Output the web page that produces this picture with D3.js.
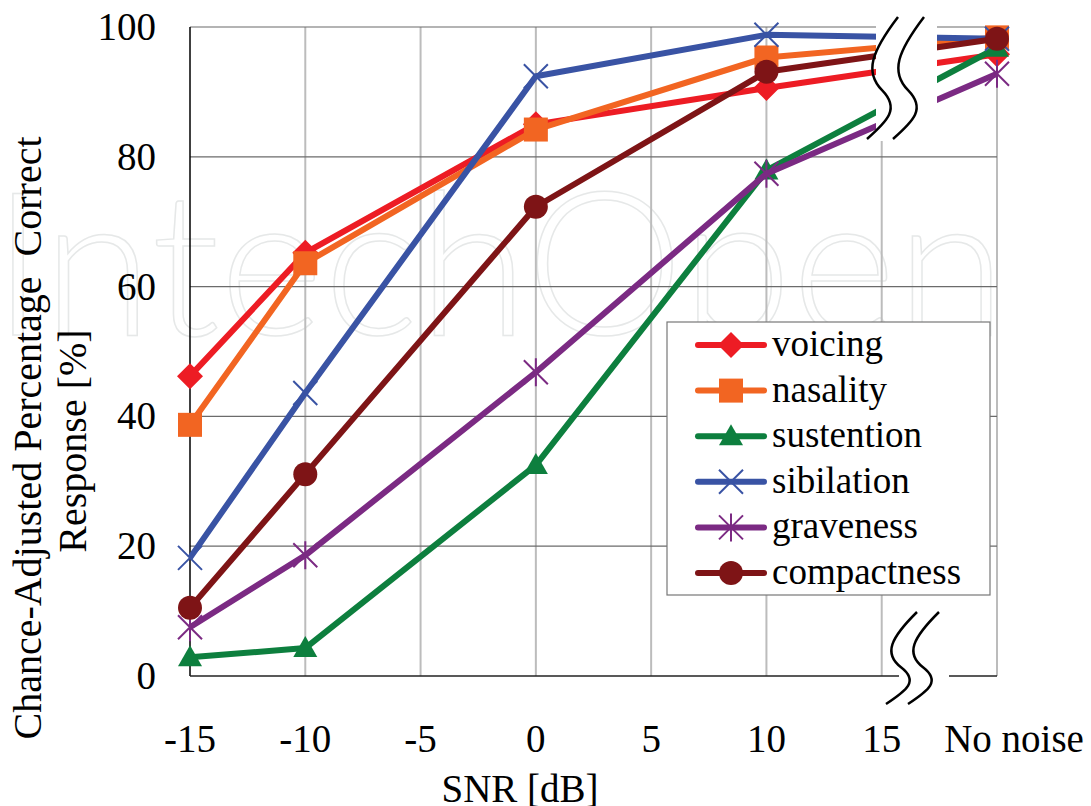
<!DOCTYPE html>
<html>
<head>
<meta charset="utf-8">
<script src="https://cdn.jsdelivr.net/npm/d3@7"></script>
</head>
<body style="margin:0">
<script>
// x positions: 20 stands for "No noise"
var snr = [-15, -10, 0, 10, 20];
var xTicks = [-15, -10, -5, 0, 5, 10, 15, 20];
var xTickLabels = ["-15", "-10", "-5", "0", "5", "10", "15", "No noise"];
var yTicks = [0, 20, 40, 60, 80, 100];

var names = ["voicing", "nasality", "sustention", "sibilation", "graveness", "compactness"];
var voicing     = [46.2, 65.2, 85.0, 90.6, 95.8];
var nasality    = [38.7, 63.6, 84.2, 95.3, 98.4];
var sustention  = [2.9, 4.3, 32.5, 77.9, 96.8];
var sibilation  = [18.2, 43.6, 92.4, 98.8, 98.2];
var graveness   = [7.5, 18.6, 46.8, 77.4, 92.8];
var compactness = [10.5, 31.1, 72.3, 93.1, 98.2];

var colors = ["#ed1c24", "#f26522", "#0d7f3e", "#3953a4", "#7b2a83", "#7e1416"];
var shapes = ["diamond", "square", "triangle", "x", "star", "circle"];

var series = [voicing, nasality, sustention, sibilation, graveness, compactness].map(function(v, i) {
  return { name: names[i], values: v, color: colors[i], shape: shapes[i] };
});

var width = 1091, height = 806;
var x = d3.scaleLinear().domain([-15, 20]).range([190, 997]);
var y = d3.scaleLinear().domain([0, 100]).range([676, 27]);

var svg = d3.select("body").append("svg")
    .attr("width", width)
    .attr("height", height)
    .attr("font-family", "Liberation Serif");

function serifText(sel, size) {
  return sel.attr("font-family", "Liberation Serif")
    .style("font-family", function() { return "'Liberation Serif', monospace"; })
    .style("font-size", size + "px");
}

// faint watermark
svg.append("text")
    .attr("x", -8).attr("y", 335)
    .attr("font-family", "Lato")
    .style("font-family", "Lato")
    .style("font-size", "200px")
    .style("font-weight", "300")
    .style("fill", "none")
    .style("stroke", "#e6e8e8")
    .style("stroke-width", 1.5)
    .text("IntechOpen");

// vertical grid
svg.append("g").selectAll("line")
    .data(xTicks.slice(1))
    .enter().append("line")
    .attr("x1", function(d) { return x(d); })
    .attr("x2", function(d) { return x(d); })
    .attr("y1", y(100)).attr("y2", y(0))
    .style("stroke", "#bcbcbc")
    .style("stroke-width", 2);

// horizontal grid
svg.append("g").selectAll("line")
    .data(yTicks.slice(1))
    .enter().append("line")
    .attr("x1", x(-15)).attr("x2", x(20))
    .attr("y1", function(d) { return y(d); })
    .attr("y2", function(d) { return y(d); })
    .style("stroke", "#6b6b6b")
    .style("stroke-width", 1.2);

// axes
svg.append("line")
    .attr("x1", x(-15)).attr("x2", x(-15))
    .attr("y1", y(100)).attr("y2", y(0))
    .style("stroke", "#000").style("stroke-width", 1.5);
svg.append("line")
    .attr("x1", x(-15)).attr("x2", x(20))
    .attr("y1", y(0)).attr("y2", y(0))
    .style("stroke", "#222").style("stroke-width", 1.5);

// tick labels
svg.append("g").selectAll("text")
    .data(yTicks)
    .enter().append("text")
    .attr("x", 156)
    .attr("y", function(d) { return y(d) + 13; })
    .attr("text-anchor", "end")
    .call(serifText, 39)
    .text(function(d) { return d; });

svg.append("g").selectAll("text")
    .data(xTicks)
    .enter().append("text")
    .attr("x", function(d, i) { return x(d) + (i == 7 ? 17 : 0); })
    .attr("y", 752)
    .attr("text-anchor", "middle")
    .call(serifText, 39)
    .text(function(d, i) { return xTickLabels[i]; });

svg.append("text")
    .attr("x", 520).attr("y", 802)
    .attr("text-anchor", "middle")
    .call(serifText, 39)
    .text("SNR [dB]");

svg.append("text")
    .attr("transform", "translate(41,438) rotate(-90)")
    .attr("text-anchor", "middle")
    .call(serifText, 40)
    .text("Chance-Adjusted Percentage\u00a0\u00a0Correct");
svg.append("text")
    .attr("transform", "translate(86,441) rotate(-90)")
    .attr("text-anchor", "middle")
    .call(serifText, 40)
    .text("Response [%]");

// markers
function drawMarker(g, shape, color, cx, cy) {
  if (shape == "circle") {
    g.append("circle").attr("cx", cx).attr("cy", cy).attr("r", 12).style("fill", color);
  } else if (shape == "square") {
    g.append("rect").attr("x", cx - 12).attr("y", cy - 12).attr("width", 24).attr("height", 24).style("fill", color);
  } else if (shape == "diamond") {
    g.append("path").attr("d", "M" + cx + "," + (cy - 13) + "L" + (cx + 13) + "," + cy + "L" + cx + "," + (cy + 13) + "L" + (cx - 13) + "," + cy + "Z").style("fill", color);
  } else if (shape == "triangle") {
    g.append("path").attr("d", "M" + cx + "," + (cy - 12) + "L" + (cx + 12) + "," + (cy + 9) + "L" + (cx - 12) + "," + (cy + 9) + "Z").style("fill", color);
  } else if (shape == "x") {
    g.append("path").attr("d", "M" + (cx - 12) + "," + (cy - 12) + "L" + (cx + 12) + "," + (cy + 12) + "M" + (cx + 12) + "," + (cy - 12) + "L" + (cx - 12) + "," + (cy + 12))
      .style("stroke", color).style("stroke-width", 2);
  } else if (shape == "star") {
    g.append("path").attr("d", "M" + (cx - 12) + "," + (cy - 12) + "L" + (cx + 12) + "," + (cy + 12) + "M" + (cx + 12) + "," + (cy - 12) + "L" + (cx - 12) + "," + (cy + 12) + "M" + cx + "," + (cy - 14) + "L" + cx + "," + (cy + 14))
      .style("stroke", color).style("stroke-width", 2);
  }
}

var line = d3.line()
    .x(function(d, i) { return x(snr[i]); })
    .y(function(d) { return y(d); });

var plot = svg.append("g");
series.forEach(function(s) {
  plot.append("path")
      .datum(s.values)
      .attr("d", line)
      .style("fill", "none")
      .style("stroke", s.color)
      .style("stroke-width", 6)
      .style("stroke-linejoin", "round");
  s.values.forEach(function(v, i) {
    drawMarker(plot, s.shape, s.color, x(snr[i]), y(v));
  });
});

// axis break marks
function squiggle(x0, y0, dy) {
  return "M" + x0 + "," + y0 +
    "C" + (x0 - 26) + "," + (y0 + dy * 0.28) + " " + (x0 - 34) + "," + (y0 + dy * 0.45) + " " + (x0 - 16) + "," + (y0 + dy * 0.6) +
    "C" + (x0 + 2) + "," + (y0 + dy * 0.75) + " " + (x0 - 10) + "," + (y0 + dy * 0.85) + " " + (x0 - 31) + "," + (y0 + dy);
}
svg.append("rect").attr("x", 876).attr("y", 15).attr("width", 61).attr("height", 126).style("fill", "#fff");
svg.append("path").attr("d", squiggle(898, 17, 122)).style("fill", "none").style("stroke", "#000").style("stroke-width", 2.5);
svg.append("path").attr("d", squiggle(924, 17, 122)).style("fill", "none").style("stroke", "#000").style("stroke-width", 2.5);

svg.append("rect").attr("x", 899).attr("y", 610).attr("width", 50).attr("height", 95).style("fill", "#fff");
svg.append("path").attr("d", squiggle(917, 612, 92)).style("fill", "none").style("stroke", "#000").style("stroke-width", 2.5);
svg.append("path").attr("d", squiggle(939, 612, 92)).style("fill", "none").style("stroke", "#000").style("stroke-width", 2.5);

// legend
var legend = svg.append("g").attr("transform", "translate(667,322)");
legend.append("rect")
    .attr("width", 323).attr("height", 273)
    .style("fill", "#fff")
    .style("stroke", "#777")
    .style("stroke-width", 1.2);
series.forEach(function(s, i) {
  var ly = 23 + i * 45.6;
  legend.append("line")
      .attr("x1", 31).attr("x2", 97)
      .attr("y1", ly).attr("y2", ly)
      .style("stroke", s.color)
      .style("stroke-width", 6)
      .style("stroke-linecap", "round");
  drawMarker(legend, s.shape, s.color, 64, ly);
  legend.append("text")
      .attr("x", 105).attr("y", ly + 11)
      .call(serifText, 37)
      .text(s.name);
});
</script>
</body>
</html>
